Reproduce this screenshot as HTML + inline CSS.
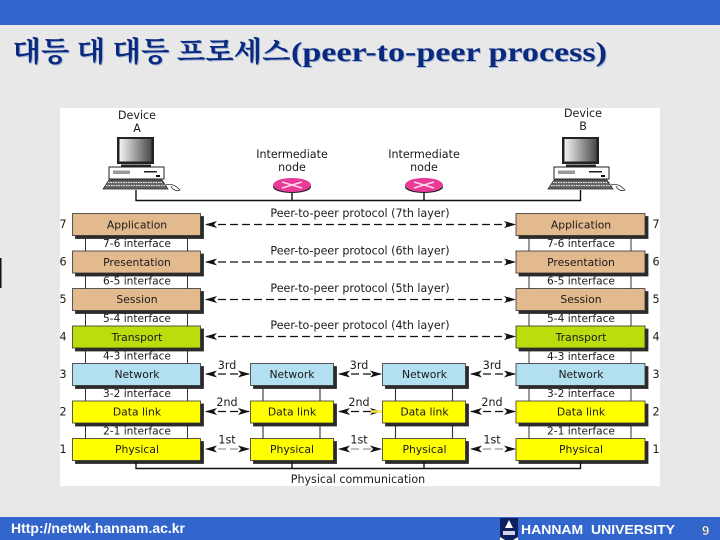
<!DOCTYPE html>
<html><head><meta charset="utf-8"><style>
html,body{margin:0;padding:0;width:720px;height:540px;overflow:hidden;background:#e8e8e8}
svg{display:block}
text{font-family:"Liberation Sans","DejaVu Sans",sans-serif;fill:#1a1a1a}
.l{font-size:10.8px;text-anchor:middle;font-family:"DejaVu Sans",sans-serif}
.i{font-size:10.6px;text-anchor:middle;font-family:"DejaVu Sans",sans-serif}
.p{font-size:11.1px;text-anchor:middle;font-family:"DejaVu Sans",sans-serif}
.k{font-size:28px;font-weight:bold;font-family:"Noto Serif CJK SC","Noto Sans CJK KR",serif}
.t{font-size:27px;font-weight:bold;font-family:"Liberation Serif",serif}
.s{filter:drop-shadow(3px 3px 0 #2a2a2a)}
</style></head><body>
<svg width="720" height="540" viewBox="0 0 720 540" xmlns="http://www.w3.org/2000/svg">
<defs>
<linearGradient id="scr" x1="0" y1="0" x2="1" y2="0"><stop offset="0" stop-color="#f4f4f4"/><stop offset="1" stop-color="#4a4a4a"/></linearGradient>
<g id="pc">
<rect x="-19" y="-63" width="37" height="27" fill="#222"/>
<rect x="-16.500" y="-61" width="32" height="22.500" fill="url(#scr)"/>
<rect x="-15" y="-35.500" width="30" height="2.500" fill="#222"/>
<rect x="-27" y="-33" width="55" height="12" fill="#fff" stroke="#222" stroke-width="1"/>
<rect x="-23" y="-29.500" width="17" height="3.500" fill="#999"/>
<rect x="8" y="-29" width="13" height="1.500" fill="#222"/><rect x="20" y="-25" width="4" height="2" fill="#111"/>
<path d="M-27-20H26L32-11H-33Z" fill="#666" stroke="#222" stroke-width=".7"/>
<path d="M-28-17.500H27M-30-14.500H29" stroke="#eee" stroke-width=".9" stroke-dasharray="1.500 1"/>
<path d="M30-15C36-17 40-14 44-10C40-8 36-11 35-14" fill="none" stroke="#333" stroke-width=".8"/>
</g>
<g id="rt">
<rect x="-19" y="-7" width="38" height="12" rx="19" ry="6" fill="#222"/>
<ellipse cx="0" cy="-3" rx="19" ry="7" fill="#e83a96"/>
<path d="M-10-6L10 0M-10 0L10-6" stroke="#ffd8ea" stroke-width="1.500"/>
</g>
<marker id="ar" viewBox="0 0 12 7" refX="11" refY="3.500" markerWidth="12" markerHeight="7" orient="auto-start-reverse" markerUnits="userSpaceOnUse"><path d="M0 0L12 3.500L0 7L3 3.500Z" fill="#111"/></marker>
</defs>

<rect width="720" height="25" fill="#3366cc"/>
<rect y="517" width="720" height="23" fill="#3366cc"/>
<rect x="0" y="258" width="1.500" height="30" fill="#111"/>

<text x="13.500" y="62" class="k" style="fill:#a4b4d2" textLength="278" lengthAdjust="spacingAndGlyphs">대등 대 대등 프로세스</text>
<text x="12.500" y="61" class="k" style="fill:#0a2a80" textLength="278" lengthAdjust="spacingAndGlyphs">대등 대 대등 프로세스</text>
<text x="292" y="62" class="t" style="fill:#a4b4d2" textLength="316" lengthAdjust="spacingAndGlyphs">(peer-to-peer process)</text>
<text x="291" y="61" class="t" style="fill:#0a2a80" textLength="316" lengthAdjust="spacingAndGlyphs">(peer-to-peer process)</text>

<rect x="60" y="108" width="600" height="378" fill="#fff"/>

<text class="p" x="137" y="119">Device</text><text class="p" x="137" y="132">A</text>
<text class="p" x="583" y="117">Device</text><text class="p" x="583" y="130">B</text>
<text class="p" x="292" y="158">Intermediate</text><text class="p" x="292" y="171">node</text>
<text class="p" x="424" y="158">Intermediate</text><text class="p" x="424" y="171">node</text>
<use href="#pc" x="136" y="200"/><use href="#pc" x="581" y="200"/>
<path d="M136 190V200.500H580.500V190M292 190V200M424 190V200" fill="none" stroke="#111" stroke-width="1.400"/>
<use href="#rt" x="292" y="188"/><use href="#rt" x="424" y="188"/>

<g fill="#fff" stroke="#333" stroke-width="1">
<rect x="85.500" y="235" width="102" height="204"/>
<rect x="529" y="235" width="102" height="204"/>
</g>
<path d="M263 385V439M320 385V439M395.500 385V439M452.500 385V439" stroke="#333" stroke-width="1.100"/>

<g stroke="#333" stroke-width=".8">
<g fill="#e3b98e">
<rect class="s" x="72.500" y="213.500" width="128" height="22"/>
<rect class="s" x="72.500" y="251" width="128" height="22"/>
<rect class="s" x="72.500" y="288.500" width="128" height="22"/>
<rect class="s" x="516" y="213.500" width="129" height="22"/>
<rect class="s" x="516" y="251" width="129" height="22"/>
<rect class="s" x="516" y="288.500" width="129" height="22"/>
</g>
<g fill="#bddc0e">
<rect class="s" x="72.500" y="326" width="128" height="22"/>
<rect class="s" x="516" y="326" width="129" height="22"/>
</g>
<g fill="#b3e0f0">
<rect class="s" x="72.500" y="363.500" width="128" height="22"/>
<rect class="s" x="250.500" y="363.500" width="83" height="22"/>
<rect class="s" x="382.500" y="363.500" width="83" height="22"/>
<rect class="s" x="516" y="363.500" width="129" height="22"/>
</g>
<g fill="#ffff00">
<rect class="s" x="72.500" y="401" width="128" height="22"/>
<rect class="s" x="250.500" y="401" width="83" height="22"/>
<rect class="s" x="382.500" y="401" width="83" height="22"/>
<rect class="s" x="516" y="401" width="129" height="22"/>
<rect class="s" x="72.500" y="438.500" width="128" height="22"/>
<rect class="s" x="250.500" y="438.500" width="83" height="22"/>
<rect class="s" x="382.500" y="438.500" width="83" height="22"/>
<rect class="s" x="516" y="438.500" width="129" height="22"/>
</g>
</g>

<path d="M136 462V468.500H580.500V462M292 462V468M424 462V468" fill="none" stroke="#111" stroke-width="1.400"/>

<text class="l" x="137" y="228.500">Application</text><text class="l" x="581" y="228.500">Application</text>
<text class="l" x="137" y="266">Presentation</text><text class="l" x="581" y="266">Presentation</text>
<text class="l" x="137" y="303">Session</text><text class="l" x="581" y="303">Session</text>
<text class="l" x="137" y="341">Transport</text><text class="l" x="581" y="341">Transport</text>
<text class="l" x="137" y="378">Network</text><text class="l" x="292" y="378">Network</text><text class="l" x="424.500" y="378">Network</text><text class="l" x="581" y="378">Network</text>
<text class="l" x="137" y="415.500">Data link</text><text class="l" x="292" y="415.500">Data link</text><text class="l" x="424.500" y="415.500">Data link</text><text class="l" x="581" y="415.500">Data link</text>
<text class="l" x="137" y="453">Physical</text><text class="l" x="292" y="453">Physical</text><text class="l" x="424.500" y="453">Physical</text><text class="l" x="581" y="453">Physical</text>
<text class="i" x="137" y="247">7-6 interface</text><text class="i" x="581" y="247">7-6 interface</text>
<text class="i" x="137" y="284.500">6-5 interface</text><text class="i" x="581" y="284.500">6-5 interface</text>
<text class="i" x="137" y="322">5-4 interface</text><text class="i" x="581" y="322">5-4 interface</text>
<text class="i" x="137" y="359.500">4-3 interface</text><text class="i" x="581" y="360">4-3 interface</text>
<text class="i" x="137" y="397">3-2 interface</text><text class="i" x="581" y="397">3-2 interface</text>
<text class="i" x="137" y="434.500">2-1 interface</text><text class="i" x="581" y="434.500">2-1 interface</text>

<text class="p" x="63" y="228">7</text><text class="p" x="63" y="265.500">6</text><text class="p" x="63" y="303">5</text><text class="p" x="63" y="340.500">4</text><text class="p" x="63" y="378">3</text><text class="p" x="63" y="415.500">2</text><text class="p" x="63" y="453">1</text>
<text class="p" x="656" y="228">7</text><text class="p" x="656" y="265.500">6</text><text class="p" x="656" y="303">5</text><text class="p" x="656" y="340.500">4</text><text class="p" x="656" y="378">3</text><text class="p" x="656" y="415.500">2</text><text class="p" x="656" y="453">1</text>

<g fill="none" stroke="#111" stroke-width="1.200" stroke-dasharray="8 4" marker-start="url(#ar)" marker-end="url(#ar)">
<path d="M206 224.500H515"/><path d="M206 262H515"/><path d="M206 299.500H515"/><path d="M206 336.500H515"/>
<path d="M206 374H249"/><path d="M339 374H381"/><path d="M471 374H515"/>
<path d="M206 411.500H249"/><path d="M339 411.500H381"/><path d="M471 411.500H515"/>
</g>
<g fill="none" stroke="#999" stroke-width="1.200" stroke-dasharray="8 4" marker-start="url(#ar)" marker-end="url(#ar)">
<path d="M206 449H249"/><path d="M339 449H381"/><path d="M471 449H515"/>
</g>
<path d="M371 411.500H382" stroke="#ffee44" stroke-width="2.500"/>

<text class="p" x="360" y="217">Peer-to-peer protocol (7th layer)</text>
<text class="p" x="360" y="254.500">Peer-to-peer protocol (6th layer)</text>
<text class="p" x="360" y="292">Peer-to-peer protocol (5th layer)</text>
<text class="p" x="360" y="329">Peer-to-peer protocol (4th layer)</text>
<text class="p" x="227" y="369">3rd</text><text class="p" x="359" y="369">3rd</text><text class="p" x="492" y="369">3rd</text>
<text class="p" x="227" y="406">2nd</text><text class="p" x="359" y="406">2nd</text><text class="p" x="492" y="406">2nd</text>
<text class="p" x="227" y="443.500">1st</text><text class="p" x="359" y="443.500">1st</text><text class="p" x="492" y="443.500">1st</text>
<text class="p" x="358" y="483">Physical communication</text>

<text x="11" y="533" style="fill:#fff;font-size:14px;font-weight:bold" textLength="174" lengthAdjust="spacingAndGlyphs">Http://netwk.hannam.ac.kr</text>
<rect x="500" y="518" width="18" height="22" fill="#0f2060"/>
<path d="M509 520L513 528H505Z" fill="#fff"/>
<rect x="503" y="531" width="12" height="4" fill="#cfd6e8"/>
<path d="M500 537L505 540H500ZM518 537L513 540H518Z" fill="#fff"/>
<text x="521" y="534" style="fill:#fff;font-size:13px;font-weight:bold" textLength="154" lengthAdjust="spacingAndGlyphs">HANNAM&#160;&#160;UNIVERSITY</text>
<text x="702" y="535" style="fill:#fff;font-size:13px;font-weight:bold;stroke:#333;stroke-width:.3">9</text>
</svg>
</body></html>
